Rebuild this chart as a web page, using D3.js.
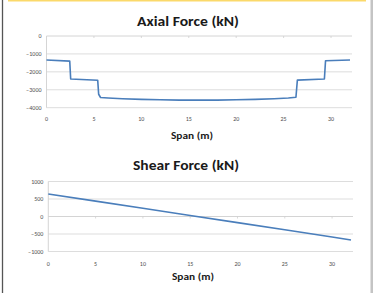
<!DOCTYPE html>
<html>
<head>
<meta charset="utf-8">
<script src="https://cdn.jsdelivr.net/npm/d3@7"></script>
<style>
  html, body { margin: 0; padding: 0; background: #fff; }
  svg { display: block; }
</style>
</head>
<body>
<div id="chart"></div>
<script>
// Axial force along the span (m, kN)
const axialSpan = [0, 2.45, 2.55, 5.4, 5.5, 5.7, 6.5, 8, 10, 12, 14, 16, 18, 20, 22, 24, 25.5, 26.3, 26.45, 29.3, 29.42, 32];
const axialForce = [-1340, -1400, -2400, -2470, -3250, -3430, -3460, -3500, -3535, -3560, -3575, -3580, -3575, -3560, -3535, -3500, -3460, -3420, -2460, -2400, -1380, -1340];
const axialTicks = [0, -1000, -2000, -3000, -4000];

// Shear force along the span (m, kN)
const shearSpan = [0, 5, 10, 15, 20, 25, 30, 32];
const shearForce = [645, 440, 235, 30, -175, -380, -585, -670];
const shearTicks = [1000, 500, 0, -500, -1000];

const spanTicks = [0, 5, 10, 15, 20, 25, 30];

const width = 373;
const height = 293;
const lineColor = '#4a7ebb';
const gridColor = '#d9d9d9';
const labelColor = '#4d4d4d';
const font = 'Calibri, Carlito, "Open Sans", "Liberation Sans", sans-serif';

const svg = d3
  .select('#chart')
  .append('svg')
  .attr('width', width)
  .attr('height', height);

// Frame: gold top rule, dark left edge, light right edge
svg.append('line')
  .attr('x1', 8).attr('x2', 366).attr('y1', 0.75).attr('y2', 0.75)
  .attr('stroke', '#fbd96a').attr('stroke-width', 1.5);
svg.append('line')
  .attr('x1', 2.5).attr('x2', 2.5).attr('y1', 0).attr('y2', height)
  .attr('stroke', '#555').attr('stroke-width', 1.3);
svg.append('rect')
  .attr('x', 370.5).attr('y', 0).attr('width', 2.5).attr('height', height)
  .attr('fill', '#c4c4c4');

function drawPanel({ title, titleY, titleX, titleW, xs, ys, yTicks, yDomain, yRange, xRange, tickLabelY, spanY, spanX }) {
  const g = svg.append('g');

  const x = d3.scaleLinear().domain([0, 32]).range(xRange);
  const y = d3.scaleLinear().domain(yDomain).range(yRange);

  // Gridlines
  g.append('g')
    .selectAll('line')
    .data(yTicks)
    .join('line')
    .attr('x1', xRange[0])
    .attr('x2', xRange[1] + 2)
    .attr('y1', (d) => y(d))
    .attr('y2', (d) => y(d))
    .attr('stroke', (d) => (d === 0 ? '#cfcfcf' : gridColor))
    .attr('stroke-width', 0.9);

  // Vertical axis line
  g.append('line')
    .attr('x1', xRange[0]).attr('x2', xRange[0])
    .attr('y1', y(yTicks[0])).attr('y2', y(yTicks[yTicks.length - 1]))
    .attr('stroke', '#d0d0d0').attr('stroke-width', 0.9);

  // Tick marks on the zero line
  g.append('g')
    .selectAll('line')
    .data(spanTicks.slice(1))
    .join('line')
    .attr('x1', (d) => x(d)).attr('x2', (d) => x(d))
    .attr('y1', y(0)).attr('y2', y(0) + 2)
    .attr('stroke', '#cfcfcf').attr('stroke-width', 0.8);

  // Y tick labels
  g.append('g')
    .selectAll('text')
    .data(yTicks)
    .join('text')
    .attr('x', xRange[0] - 5)
    .attr('y', (d) => y(d) + 2)
    .attr('text-anchor', 'end')
    .attr('font-family', font)
    .attr('font-size', 6)
    .attr('fill', labelColor)
    .text((d) => d3.format('d')(d));

  // X tick labels
  g.append('g')
    .selectAll('text')
    .data(spanTicks)
    .join('text')
    .attr('x', (d) => x(d))
    .attr('y', tickLabelY)
    .attr('text-anchor', 'middle')
    .attr('font-family', font)
    .attr('font-size', 6)
    .attr('fill', labelColor)
    .text((d) => d);

  // Data line
  const pts = xs.map((v, i) => [v, ys[i]]);
  g.append('path')
    .datum(pts)
    .attr('fill', 'none')
    .attr('stroke', lineColor)
    .attr('stroke-width', 1.6)
    .attr('stroke-linejoin', 'round')
    .attr('d', d3.line().x((d) => x(d[0])).y((d) => y(d[1])));

  // Title
  g.append('text')
    .attr('x', titleX)
    .attr('y', titleY)
    .attr('text-anchor', 'middle')
    .attr('font-family', font)
    .attr('font-weight', 'bold')
    .attr('font-size', 14)
    .attr('fill', '#1a1a1a')
    .attr('textLength', titleW)
    .attr('lengthAdjust', 'spacingAndGlyphs')
    .text(title);

  // Axis title
  g.append('text')
    .attr('x', spanX)
    .attr('y', spanY)
    .attr('text-anchor', 'middle')
    .attr('font-family', font)
    .attr('font-weight', 'bold')
    .attr('font-size', 10)
    .attr('fill', '#1a1a1a')
    .attr('textLength', 42)
    .attr('lengthAdjust', 'spacingAndGlyphs')
    .text('Span (m)');
}

drawPanel({
  title: 'Axial Force (kN)',
  titleX: 188, titleY: 25.5, titleW: 102,
  xs: axialSpan, ys: axialForce,
  yTicks: axialTicks, yDomain: [-4000, 0], yRange: [107.7, 36],
  xRange: [46.5, 350],
  tickLabelY: 120.5,
  spanX: 192, spanY: 138.5
});

drawPanel({
  title: 'Shear Force (kN)',
  titleX: 186, titleY: 169.5, titleW: 106,
  xs: shearSpan, ys: shearForce,
  yTicks: shearTicks, yDomain: [-1000, 1000], yRange: [251.5, 181.5],
  xRange: [48.3, 351],
  tickLabelY: 266,
  spanX: 193, spanY: 280
});
</script>
</body>
</html>
